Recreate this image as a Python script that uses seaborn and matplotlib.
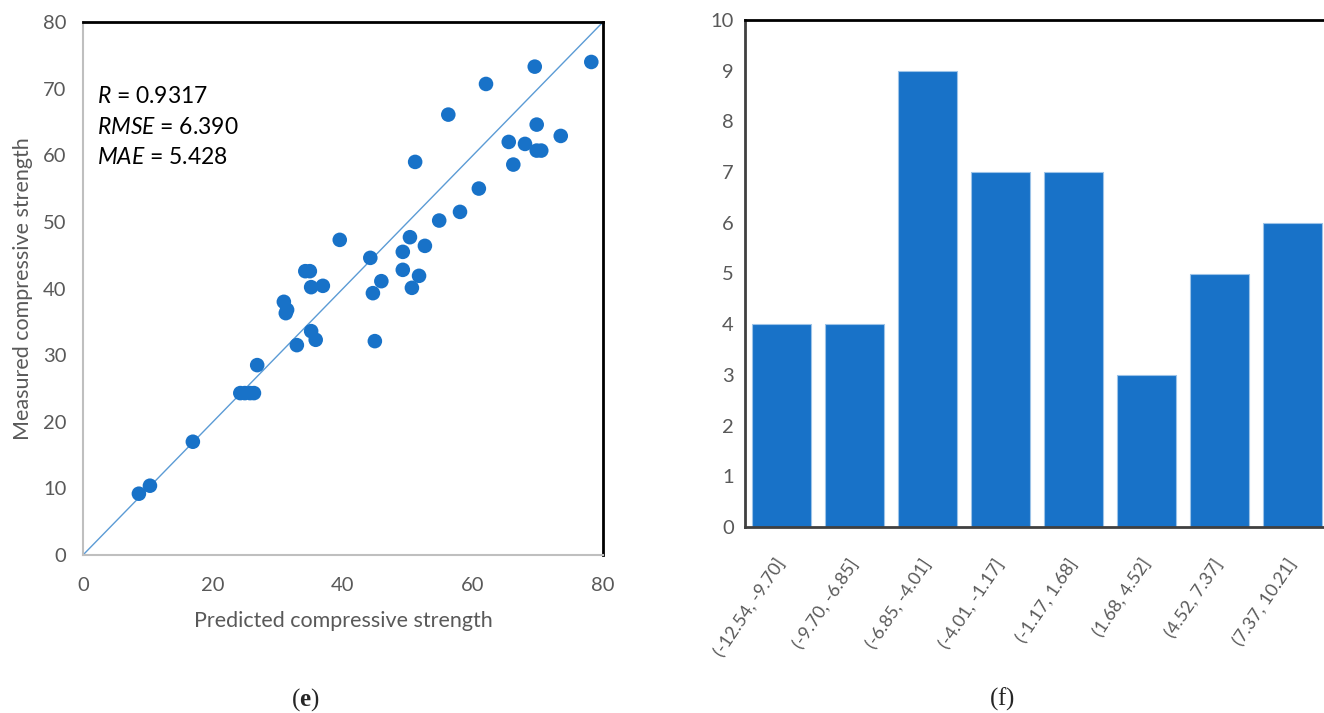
import seaborn as sns
import matplotlib.pyplot as plt
import pandas as pd

# 散点数据（预测值 vs 实测值）
predicted = [8.6, 10.3, 16.9, 24.2, 24.9, 25.7, 26.3, 26.8, 30.9, 31.4, 31.2, 32.9,
             34.2, 34.9, 35.1, 36.9, 35.1, 35.8, 39.5, 44.2, 44.6, 44.9, 45.9, 49.2,
             49.2, 50.3, 50.6, 51.7, 52.6, 54.8, 51.1, 56.2, 58.0, 60.9, 62.0, 65.5,
             66.2, 68.0, 69.5, 69.8, 69.8, 70.5, 73.5, 78.2]
measured = [9.2, 10.4, 17.0, 24.3, 24.3, 24.3, 24.3, 28.5, 38.0, 36.8, 36.3, 31.5,
            42.6, 42.6, 40.2, 40.4, 33.6, 32.3, 47.3, 44.6, 39.3, 32.1, 41.1, 45.5,
            42.8, 47.7, 40.1, 41.9, 46.4, 50.2, 59.0, 66.1, 51.5, 55.0, 70.7, 62.0,
            58.6, 61.7, 73.3, 64.6, 60.7, 60.7, 62.9, 74.0]

# 误差区间直方图
bins = ["(-12.54, -9.70]", "(-9.70, -6.85]", "(-6.85, -4.01]", "(-4.01, -1.17]",
        "(-1.17, 1.68]", "(1.68, 4.52]", "(4.52, 7.37]", "(7.37, 10.21]"]
counts = [4, 4, 9, 7, 7, 3, 5, 6]

metrics = ["R", "RMSE", "MAE"]
metric_values = ["0.9317", "6.390", "5.428"]

blue = "#1872c8"
gray_text = "#595959"

sns.set_style("white")
plt.rcParams['font.family'] = ['Lato', 'DejaVu Sans']
# 数学文本：斜体用无衬线，子图标签用衬线
plt.rcParams['mathtext.fontset'] = 'custom'
plt.rcParams['mathtext.it'] = 'Lato:italic'
plt.rcParams['mathtext.rm'] = 'Liberation Serif'
plt.rcParams['mathtext.bf'] = 'Liberation Serif:bold'

fig = plt.figure(figsize=(13.24, 7.13), dpi=100)
W, H = 1324, 713

# ================= (e) 散点图 =================
ax1 = fig.add_axes([83 / W, 1 - 555 / H, 520 / W, 533 / H])
df = pd.DataFrame({"pred": predicted, "meas": measured})
ax1.plot([0, 80], [0, 80], color="#5b9bd5", lw=1.0, zorder=1)
sns.scatterplot(data=df, x="pred", y="meas", ax=ax1, color=blue, s=110,
                edgecolor="none", zorder=3)
ax1.set_xlim(0, 80)
ax1.set_ylim(0, 80)
ax1.set_xticks(range(0, 81, 20))
ax1.set_yticks(range(0, 81, 10))
ax1.tick_params(labelsize=14.5, labelcolor=gray_text, length=0)
ax1.tick_params(axis="x", pad=16)
ax1.tick_params(axis="y", pad=12)
ax1.set_xlabel("Predicted compressive strength", fontsize=15.5, color=gray_text, labelpad=12)
ax1.set_ylabel("Measured compressive strength", fontsize=15.5, color=gray_text, labelpad=7)
for s in ["left", "bottom"]:
    ax1.spines[s].set_color("#bfbfbf")
    ax1.spines[s].set_linewidth(1.5)
for s in ["top", "right"]:
    ax1.spines[s].set_color("black")
    ax1.spines[s].set_linewidth(2)

for i, (m, v) in enumerate(zip(metrics, metric_values)):
    ax1.text(0.027, 0.86 - i * 0.057, f"$\\mathit{{{m}}}$ = {v}", transform=ax1.transAxes,
             fontsize=16.5, color="black", va="center", ha="left")

# ================= (f) 柱状图 =================
ax2 = fig.add_axes([745 / W, 1 - 527 / H, 584 / W, 507 / H])
sns.barplot(x=bins, y=counts, ax=ax2, color=blue, width=0.82, saturation=1,
            edgecolor="#9cc3e8", linewidth=0.8)
ax2.set_xlim(-0.5, 7.5)
ax2.set_ylim(0, 10)
ax2.set_yticks(range(0, 11))
ax2.tick_params(axis="y", labelsize=14.5, labelcolor=gray_text, length=0, pad=8)
ax2.tick_params(axis="x", labelsize=13, labelcolor=gray_text, length=0, pad=24)
for lab in ax2.get_xticklabels():
    lab.set_rotation(56)
    lab.set_ha("right")
    lab.set_va("center")
    lab.set_rotation_mode("anchor")
for s in ["left", "bottom"]:
    ax2.spines[s].set_color("#404040")
    ax2.spines[s].set_linewidth(2)
for s in ["top", "right"]:
    ax2.spines[s].set_color("black")
    ax2.spines[s].set_linewidth(2)

# 子图标签
fig.text(305 / W, 1 - 700 / H, r"$(\mathbf{e})$", fontsize=18, ha="center", va="center")
fig.text(1002 / W, 1 - 699 / H, r"$(\mathrm{f})$", fontsize=18, ha="center", va="center")

fig.savefig("out.png", dpi=100)
